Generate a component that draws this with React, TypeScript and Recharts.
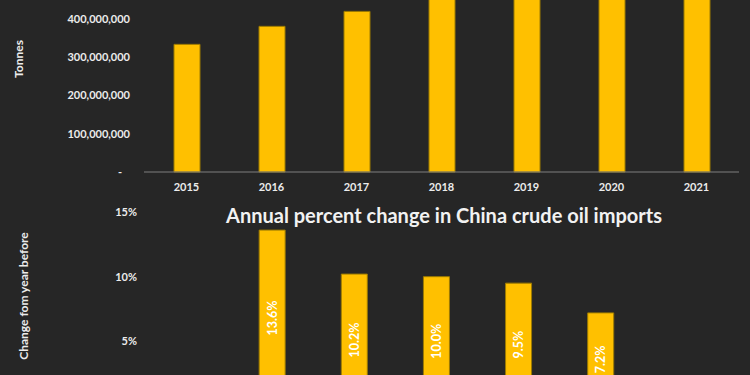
import React from 'react';
import { BarChart, Bar, XAxis, YAxis, LabelList } from 'recharts';

const importYears = ['2015', '2016', '2017', '2018', '2019', '2020', '2021'];
const importTonnes = [333000000, 380000000, 419000000, 462000000, 506000000, 542000000, 513000000];
const tonneTicks = [0, 100000000, 200000000, 300000000, 400000000, 500000000, 600000000];

const changeYears = ['2015', '2016', '2017', '2018', '2019', '2020', '2021'];
const changePct: (number | null)[] = [null, 13.6, 10.2, 10.0, 9.5, 7.2, null];
const pctTicks = [0, 5, 10, 15];

const chartTitle = 'Annual percent change in China crude oil imports';
const tonnesTitle = 'Tonnes';
const changeTitle = 'Change fom year before';

const importData = importYears.map((year, i) => ({ year, tonnes: importTonnes[i] }));
const changeData = changeYears.map((year, i) => ({ year, pct: changePct[i] }));

const FONT = 'Lato, "Open Sans", sans-serif';
const BG = '#262626';
const GOLD = '#FFC000';
const GOLD_EDGE = '#9c7a00';
const TEXT = '#ececec';

const AxisTitle = (props: any) => {
  const { viewBox, text, dx = 0, dy = 0 } = props;
  if (!viewBox) return null;
  const cx = viewBox.x + dx;
  const cy = viewBox.y + viewBox.height / 2 + dy;
  return (
    <text
      x={cx}
      y={cy}
      transform={`rotate(-90 ${cx} ${cy})`}
      textAnchor="middle"
      dominantBaseline="central"
      fill={TEXT}
      fontSize={12}
      fontWeight={700}
      fontFamily={FONT}
    >
      {text}
    </text>
  );
};

const fmtTonnes = (v: number) => (v === 0 ? '-\u00A0\u00A0\u00A0' : v.toLocaleString('en-US'));
const fmtPct = (v: number) => `${v}%`;
const fmtBarPct = (v: any) => (v == null ? '' : `${Number(v).toFixed(1)}%`);

export default function App() {
  return (
    <div
      style={{
        position: 'absolute',
        left: 0,
        top: 0,
        width: 750,
        height: 375,
        overflow: 'hidden',
        background: BG,
        fontFamily: FONT,
      }}
    >
      <div style={{ position: 'absolute', left: 0, top: -70 }}>
        <BarChart
          width={750}
          height={272}
          data={importData}
          margin={{ top: 12, right: 11, bottom: 0, left: 0 }}
          barSize={26}
        >
          <XAxis
            dataKey="year"
            axisLine={{ stroke: '#7f7f7f', strokeWidth: 1 }}
            tickLine={false}
            tickSize={0}
            tickMargin={11}
            height={30}
            tick={{ fill: TEXT, fontSize: 11, fontWeight: 700, fontFamily: FONT }}
          />
          <YAxis
            width={144}
            domain={[0, 600000000]}
            ticks={tonneTicks}
            axisLine={false}
            tickLine={false}
            tickSize={0}
            tickMargin={14}
            tickFormatter={fmtTonnes}
            tick={{ fill: TEXT, fontSize: 11, fontWeight: 700, fontFamily: FONT }}
            label={<AxisTitle text={tonnesTitle} dx={18} dy={2} />}
          />
          <Bar
            dataKey="tonnes"
            fill={GOLD}
            stroke={GOLD_EDGE}
            strokeWidth={1}
            isAnimationActive={false}
          />
        </BarChart>
      </div>

      <div style={{ position: 'absolute', left: 0, top: 200 }}>
        <BarChart
          width={750}
          height={236}
          data={changeData}
          margin={{ top: 12, right: 26, bottom: 0, left: 0 }}
          barSize={26}
        >
          <XAxis
            dataKey="year"
            axisLine={{ stroke: '#7f7f7f', strokeWidth: 1 }}
            tickLine={false}
            tickSize={0}
            tickMargin={11}
            height={30}
            tick={{ fill: TEXT, fontSize: 11, fontWeight: 700, fontFamily: FONT }}
          />
          <YAxis
            width={149}
            domain={[0, 15]}
            ticks={pctTicks}
            axisLine={false}
            tickLine={false}
            tickSize={0}
            tickMargin={12}
            tickFormatter={fmtPct}
            tick={{ fill: TEXT, fontSize: 11, fontWeight: 700, fontFamily: FONT }}
            label={<AxisTitle text={changeTitle} dx={23} dy={-13} />}
          />
          <Bar
            dataKey="pct"
            fill={GOLD}
            stroke={GOLD_EDGE}
            strokeWidth={1}
            isAnimationActive={false}
          >
            <LabelList
              dataKey="pct"
              position="center"
              angle={-90}
              formatter={fmtBarPct}
              fill="#ffffff"
              fontSize={12.5}
              fontWeight={700}
              fontFamily={FONT}
            />
          </Bar>
        </BarChart>
      </div>

      <div
        style={{
          position: 'absolute',
          left: 444,
          top: 203,
          transform: 'translateX(-50%)',
          whiteSpace: 'nowrap',
          color: '#f2f2f2',
          fontSize: 20,
          fontWeight: 700,
          lineHeight: '24px',
          fontFamily: FONT,
        }}
      >
        {chartTitle}
      </div>
    </div>
  );
}
